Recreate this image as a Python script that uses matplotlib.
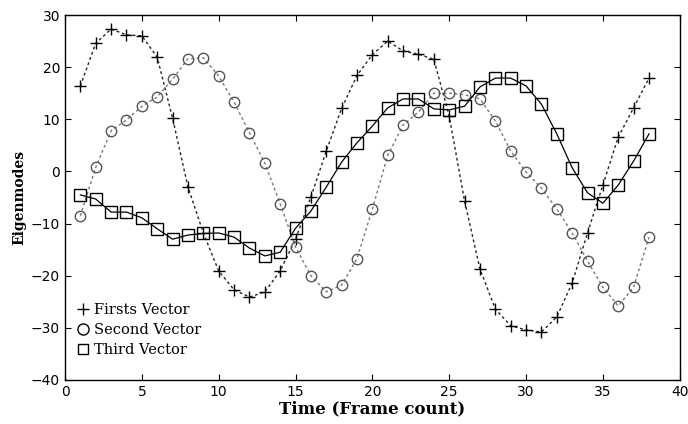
import numpy as np
import matplotlib
matplotlib.use('Agg')
import matplotlib.pyplot as plt

# Frame index
frames = list(range(1, 39))

first_vector = [16.4, 24.6, 27.3, 26.2, 26.0, 21.9, 10.2, -3.0, -11.8, -19.1,
                -22.7, -24.1, -23.1, -19.1, -13.0, -4.9, 3.9, 12.1, 18.4, 22.4,
                25.0, 23.1, 22.5, 21.5, 10.6, -5.7, -18.7, -26.4, -29.6, -30.4,
                -30.8, -27.9, -21.4, -11.8, -2.6, 6.6, 12.2, 17.9]

second_vector = [-8.5, 0.8, 7.8, 9.9, 12.5, 14.3, 17.7, 21.6, 21.8, 18.3,
                 13.3, 7.4, 1.6, -6.2, -14.5, -20.0, -23.1, -21.8, -16.7, -7.2,
                 3.1, 8.9, 11.4, 15.0, 15.0, 14.7, 13.9, 9.7, 3.9, -0.1,
                 -3.2, -7.2, -11.8, -17.2, -22.2, -25.8, -22.2, -12.6]

third_vector = [-4.5, -5.3, -7.8, -7.8, -8.9, -11.0, -13.0, -12.2, -11.9, -11.8,
                -12.6, -14.7, -16.2, -15.5, -10.9, -7.6, -3.0, 1.8, 5.5, 8.7,
                12.2, 13.9, 13.9, 12.0, 11.8, 12.5, 16.2, 17.9, 17.9, 16.4,
                12.9, 7.2, 0.7, -4.1, -6.1, -2.6, 2.0, 7.2]

serif = ['DejaVu Serif']

fig = plt.figure(figsize=(6.88, 4.24), dpi=100)
ax = fig.add_axes([0.0945, 0.1038, 0.8935, 0.8608])

ax.plot(frames, first_vector, linestyle=(0, (2, 2)), color='#222222', linewidth=1.0,
        marker='+', markersize=8, markeredgewidth=1.0, markeredgecolor='black',
        label='Firsts Vector')
ax.plot(frames, second_vector, linestyle=(0, (2, 2)), color='#777777', linewidth=1.0,
        marker='o', markersize=7.5, markerfacecolor='none', markeredgewidth=1.0,
        markeredgecolor='#555555', label='Second Vector')
ax.plot(frames, third_vector, linestyle='-', color='black', linewidth=0.9,
        marker='s', markersize=8, markerfacecolor='none', markeredgewidth=1.0,
        markeredgecolor='black', label='Third Vector')

ax.set_xlim(0, 40)
ax.set_ylim(-40, 30)
ax.set_xticks(range(0, 41, 5))
ax.set_yticks(range(-40, 31, 10))
ax.tick_params(direction='in', top=True, right=True, length=4, labelsize=10,
               colors='black')
for sp in ax.spines.values():
    sp.set_linewidth(1.0)

ax.set_xlabel('Time (Frame count)', fontfamily=serif, fontweight='bold', fontsize=12,
              labelpad=1)
ax.set_ylabel('Eigenmodes', fontfamily=serif, fontweight='bold', fontsize=10,
              labelpad=3)

# Legend: markers only, no frame
handles = [
    plt.Line2D([], [], linestyle='none', marker='+', markersize=8, color='black'),
    plt.Line2D([], [], linestyle='none', marker='o', markersize=8,
               markerfacecolor='none', markeredgecolor='black'),
    plt.Line2D([], [], linestyle='none', marker='s', markersize=7,
               markerfacecolor='none', markeredgecolor='black'),
]
ax.legend(handles, ['Firsts Vector', 'Second Vector', 'Third Vector'],
          loc='lower left', bbox_to_anchor=(0.0, 0.035), frameon=False,
          prop={'family': serif, 'size': 10.5}, handlelength=1.0,
          handletextpad=0.3, labelspacing=0.4, borderaxespad=0.3)

fig.savefig('out.png', dpi=100)
